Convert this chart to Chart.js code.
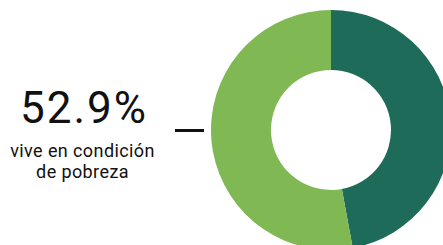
<!DOCTYPE html>
<html>
<head>
<meta charset="utf-8">
<script src="https://cdn.jsdelivr.net/npm/chart.js@4"></script>
<style>
  html, body { margin: 0; padding: 0; width: 443px; height: 245px; overflow: hidden; background: #fff; }
  body { position: relative; font-family: Roboto, "Noto Sans", sans-serif; color: #111; }
  #wrap { position: absolute; left: 211px; top: 10px; width: 240px; height: 240px; }
  .big { position: absolute; left: 0; width: 168px; top: 84px; text-align: center; font-size: 44px; line-height: 48px; letter-spacing: 2px; }
  .sub { position: absolute; left: 0; width: 165px; top: 140px; text-align: center; font-size: 18px; line-height: 21px; letter-spacing: 0.4px; }
  .dash { position: absolute; left: 175px; top: 129px; width: 29px; height: 3px; background: #111; }
</style>
</head>
<body>
<div class="big" id="pct"></div>
<div class="sub">vive en condición<br>de pobreza</div>
<div class="dash"></div>
<div id="wrap"><canvas id="donut"></canvas></div>
<script>
// poverty share
const labels = ['No pobreza', 'Pobreza'];
const values = [47.1, 52.9];
const colors = ['#1f6b5a', '#80b853'];

document.getElementById('pct').textContent = values[1].toFixed(1) + '%';

new Chart(document.getElementById('donut').getContext('2d'), {
  type: 'doughnut',
  data: {
    labels: labels,
    datasets: [
      {
        data: values,
        backgroundColor: colors,
        borderWidth: 0,
        hoverOffset: 0
      }
    ]
  },
  options: {
    responsive: true,
    maintainAspectRatio: false,
    animation: false,
    cutout: '50%',
    layout: { padding: 0 },
    plugins: {
      legend: { display: false },
      tooltip: { enabled: false }
    }
  }
});
</script>
</body>
</html>
